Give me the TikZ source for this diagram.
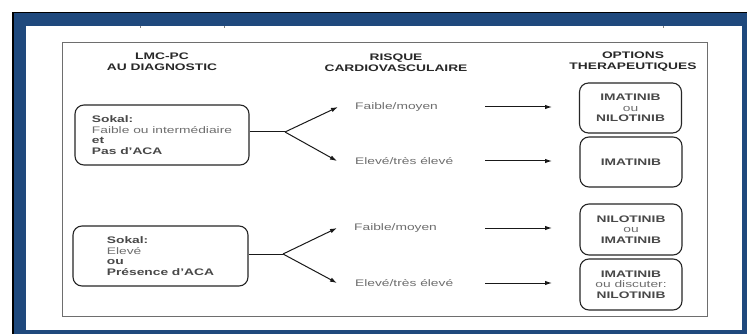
\documentclass[tikz,border=0pt]{standalone}
\usepackage{fontspec}
\setmainfont{Liberation Sans}[FakeStretch=1.45]
\usetikzlibrary{arrows.meta,calc}
\definecolor{frameblue}{RGB}{31,73,125}
\definecolor{txtgray}{RGB}{110,110,110}
\definecolor{txtdark}{RGB}{40,40,40}
\definecolor{boxtxt}{RGB}{72,72,72}
\definecolor{rectgray}{RGB}{110,110,110}
\begin{document}
\begin{tikzpicture}[x=1pt,y=-1pt,
  hdr/.style={font=\bfseries\fontsize{9.5}{11}\selectfont, text=txtdark, align=center, inner sep=0pt},
  lbox/.style={draw=black!85, line width=1.1pt, rounded corners=9pt, inner sep=0pt, align=left,
    minimum height=60pt, text=boxtxt, font=\fontsize{9.5}{10.5}\selectfont},
  rbox/.style={draw=black!85, line width=1.1pt, rounded corners=9pt, inner sep=0pt, align=center,
    minimum width=102pt, minimum height=50pt, text=boxtxt, font=\fontsize{9.5}{10.4}\selectfont},
  lab/.style={text=txtgray, anchor=west, inner sep=0pt, font=\fontsize{9.5}{11}\selectfont},
  arr/.style={-{Latex[length=7pt,width=4.5pt]}, line width=1pt, draw=black!90},
  conn/.style={line width=1pt, draw=black!90},
  tick/.style={draw=gray, line width=0.8pt}]
\useasboundingbox (0,0) rectangle (747,334);
% frame
\fill[white] (0,0) rectangle (747,334);
\fill[frameblue] (12,12) rectangle (747,334);
\fill[white] (26,26) rectangle (742,330);
\draw[black, line width=1.5pt] (12.75,334) -- (12.75,12.75) -- (747,12.75);
\draw[tick] (140,26) -- (140,28.5);
\draw[tick] (224,26) -- (224,28.5);
\draw[tick] (663,26) -- (663,28.5);
% inner rectangle
\draw[rectgray, line width=1pt] (62,43) rectangle (707,316);
% headings
\node[hdr] (h1) at (162,61.5) {LMC-PC\\AU DIAGNOSTIC};
\node[hdr] (h2) at (396,62.5) {RISQUE\\CARDIOVASCULAIRE};
\node[hdr] (h3) at (633,62) {OPTIONS\\THERAPEUTIQUES};
% left boxes
\node[lbox, minimum width=174pt] (b1) at (162,135)
  {\textbf{Sokal:}\\{\color{txtgray}Faible ou intermédiaire}\\\textbf{et}\\\textbf{Pas d'ACA}};
\node[lbox, minimum width=175pt] (b2) at (160.5,256)
  {\textbf{Sokal:}\\{\color{txtgray}Elevé}\\\textbf{ou}\\\textbf{Présence d'ACA}};
% labels
\node[lab] (l1) at (355,107) {Faible/moyen};
\node[lab] (l2) at (355,161) {Elevé/très élevé};
\node[lab] (l3) at (354,228) {Faible/moyen};
\node[lab] (l4) at (355,283) {Elevé/très élevé};
% right boxes
\node[rbox] (ra) at (630.5,108) {\textbf{IMATINIB}\\{\color{txtgray}ou}\\\textbf{NILOTINIB}};
\node[rbox] (rb) at (631,162) {\textbf{IMATINIB}};
\node[rbox, minimum height=51pt] (rc) at (631,229.5) {\textbf{NILOTINIB}\\{\color{txtgray}ou}\\\textbf{IMATINIB}};
\node[rbox, minimum height=51pt] (rd) at (631,284.5) {\textbf{IMATINIB}\\{\color{txtgray}ou discuter:}\\\textbf{NILOTINIB}};
% forks
\coordinate (f1) at (285,132);
\coordinate (f2) at (283,254);
\coordinate (ax) at (485,0);
\coordinate (bx) at (552,0);
\draw[conn] (b1.east |- f1) -- (f1);
\draw[arr] (f1) -- ([xshift=-17pt]l1.west);
\draw[arr] (f1) -- ([xshift=-18pt]l2.west);
\draw[conn] (b2.east |- f2) -- (f2);
\draw[arr] (f2) -- ([xshift=-17pt]l3.west);
\draw[arr] (f2) -- ([xshift=-18pt]l4.west);
% horizontal arrows
\draw[arr] (l1.west -| ax) -- (l1.west -| bx);
\draw[arr] (l2.west -| ax) -- (l2.west -| bx);
\draw[arr] (l3.west -| ax) -- (l3.west -| bx);
\draw[arr] (l4.west -| ax) -- (l4.west -| bx);
\end{tikzpicture}
\end{document}
